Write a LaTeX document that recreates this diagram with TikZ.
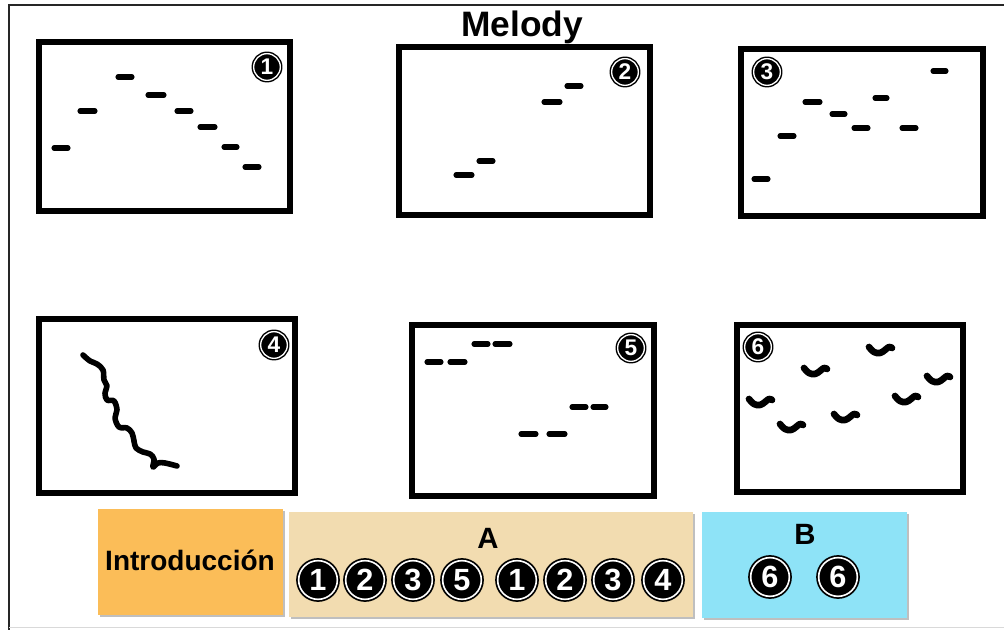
\documentclass[tikz,border=0pt]{standalone}
\usepackage{fontspec}
\setmainfont{Liberation Sans}
\usetikzlibrary{shadows}
\definecolor{orangebox}{HTML}{FBBD58}
\definecolor{beigebox}{HTML}{F2DCB0}
\definecolor{bluebox}{HTML}{8EE3F7}
\begin{document}
\begin{tikzpicture}[x=0.75pt,y=-0.75pt,
  panel/.style={draw=black, line width=3.8pt},
  note/.style={line width=3.8pt, line cap=round},
  wig/.style={line width=4.2pt, line cap=round, line join=round},
  cnbig/.style={circle, fill=black, draw=black, double=white, double distance=1.2pt, line width=1.3pt,
     text=white, inner sep=0pt, minimum size=29pt, font=\bfseries\fontsize{23}{23}\selectfont},
  cnsmall/.style={circle, fill=black, draw=black, double=white, double distance=1pt, line width=1.1pt,
     text=white, inner sep=0pt, minimum size=20pt, font=\bfseries\fontsize{17}{17}\selectfont},
  sec/.style={drop shadow={shadow xshift=1.8pt, shadow yshift=-1.8pt, fill=black, opacity=0.25}},
  lbl/.style={font=\bfseries\fontsize{#1}{#1}\selectfont, inner sep=0pt},
  bat/.pic={\draw[wig, line width=5pt] plot[smooth, tension=0.7] coordinates {(-11,-3) (-6,2) (0,3) (5,0) (9,-3) (12,-2)};}
]
\useasboundingbox (0,0) rectangle (1004,630);
\fill[white] (0,0) rectangle (1004,630);
% outer frame
\draw[line width=1.5pt, black!85] (9,630) -- (9,5) -- (1004,5);
\draw[line width=0.6pt, black!15] (9,627) -- (1004,627);

% title
\node[lbl=26.5, anchor=base] (title) at (522,37) {Melody};

% panels
\draw[panel] (39,42) rectangle (290,211);
\draw[panel] (399,47) rectangle (650,215);
\draw[panel] (741,49) rectangle (983,216);
\draw[panel] (39,319) rectangle (295,493);
\draw[panel] (412,325) rectangle (654,496);
\draw[panel] (737,325) rectangle (963,492);

% panel numbers
\node[cnsmall] (p1) at (267,67) {1};
\node[cnsmall] (p2) at (625,72) {2};
\node[cnsmall] (p3) at (767,72) {3};
\node[cnsmall] (p4) at (274,345) {4};
\node[cnsmall] (p5) at (631,348) {5};
\node[cnsmall] (p6) at (758,347) {6};

% panel 1 notes
\foreach \a/\b/\y in {54/68/148, 80/95/111, 118/132/77, 148/164/95, 177/191/111, 200/215/127, 224/237/147, 245/259/167}
  \draw[note] (\a,\y) -- (\b,\y);
% panel 2 notes
\foreach \a/\b/\y in {456/472/175, 479/493/161, 544/560/102, 567/581/86}
  \draw[note] (\a,\y) -- (\b,\y);
% panel 3 notes
\foreach \a/\b/\y in {754/768/179, 780/794/136, 805/820/102, 832/845/114, 854/868/128, 875/887/98, 902/916/128, 933/946/71}
  \draw[note] (\a,\y) -- (\b,\y);
% panel 5 notes
\foreach \a/\b/\y in {427/441/362, 450/465/362, 474/488/344, 495/510/344, 521/536/434, 549/565/434, 572/586/407, 593/606/407}
  \draw[note] (\a,\y) -- (\b,\y);

% panel 4 squiggle
\draw[wig] plot[smooth, tension=0.6] coordinates {(83,355) (90,361) (97,364) (103,370) (104,380) (107,386) (105,393) (107,400) (114,401) (117,410) (115,418) (119,427) (127,428) (132,433) (134,441) (136,448) (143,452) (150,454) (154,459) (153,467) (158,463) (165,463) (177,466)};

% panel 6 marks
\foreach \x/\y in {760/402, 791/427, 815/371, 845/417, 880/350, 906/399, 938/379}
  \pic at (\x,\y) {bat};

% bottom sections
\fill[orangebox, sec] (98,509) rectangle (283,615);
\fill[beigebox, sec] (289,512) rectangle (693,617);
\fill[bluebox, sec] (702,512) rectangle (907,618);
\node[lbl=21] (intro) at (190,560) {Introducción};
\node[lbl=22] (A) at (488,538) {A};
\node[lbl=22] (B) at (805,534) {B};

\node[cnbig] (a1) at (318,580) {1};
\node[cnbig] (a2) at (365,580) {2};
\node[cnbig] (a3) at (413,580) {3};
\node[cnbig] (a4) at (462,580) {5};
\node[cnbig] (a5) at (517,580) {1};
\node[cnbig] (a6) at (565,580) {2};
\node[cnbig] (a7) at (613,580) {3};
\node[cnbig] (a8) at (663,580) {4};
\node[cnbig] (b1) at (770,577) {6};
\node[cnbig] (b2) at (838,577) {6};
\end{tikzpicture}
\end{document}
